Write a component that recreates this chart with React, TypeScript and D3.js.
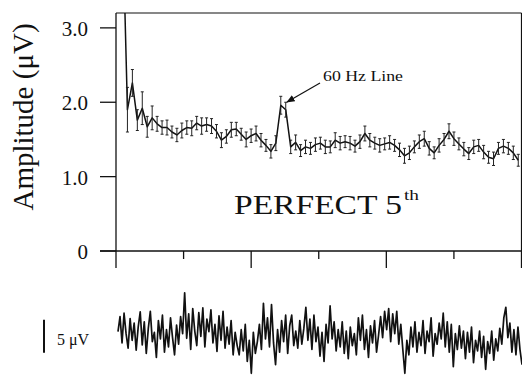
import React from 'react';
import * as d3 from 'd3';

// spectrum: amplitude (uV) per frequency bin
const freqStart = 2.4; // Hz
const freqStep = 1.83; // Hz
const amplitudes = [
  4.5, 1.90, 2.26, 1.76, 1.92, 1.67, 1.79, 1.71, 1.66, 1.66,
  1.60, 1.56, 1.62, 1.66, 1.65, 1.72, 1.68, 1.70, 1.68, 1.61,
  1.49, 1.54, 1.63, 1.64, 1.57, 1.50, 1.55, 1.58, 1.49, 1.42,
  1.34, 1.45, 1.96, 1.90, 1.40, 1.46, 1.35, 1.40, 1.38, 1.43,
  1.45, 1.40, 1.40, 1.49, 1.45, 1.47, 1.45, 1.41, 1.47, 1.58,
  1.49, 1.45, 1.42, 1.44, 1.46, 1.42, 1.36, 1.28, 1.32, 1.40,
  1.47, 1.51, 1.38, 1.32, 1.42, 1.50, 1.61, 1.51, 1.44, 1.37,
  1.31, 1.40, 1.42, 1.33, 1.26, 1.24, 1.38, 1.41, 1.38, 1.32,
  1.22,
];
const errors = [
  0, 0.30, 0.18, 0.14, 0.22, 0.14, 0.16, 0.10, 0.09, 0.10,
  0.08, 0.09, 0.10, 0.09, 0.10, 0.09, 0.11, 0.09, 0.10, 0.09,
  0.10, 0.09, 0.10, 0.09, 0.08, 0.10, 0.09, 0.10, 0.09, 0.08,
  0.09, 0.10, 0.12, 0.10, 0.09, 0.10, 0.08, 0.09, 0.08, 0.09,
  0.08, 0.09, 0.08, 0.10, 0.09, 0.08, 0.09, 0.08, 0.09, 0.10,
  0.09, 0.08, 0.09, 0.08, 0.09, 0.08, 0.09, 0.10, 0.09, 0.08,
  0.09, 0.10, 0.09, 0.08, 0.09, 0.08, 0.10, 0.09, 0.08, 0.09,
  0.08, 0.09, 0.08, 0.09, 0.08, 0.09, 0.08, 0.09, 0.08, 0.09,
  0.08,
];
const yTicks = [0, 1, 2, 3];
const yTickLabels = ['0', '1.0', '2.0', '3.0'];
const xTicks = [0, 25, 50, 75, 100, 125, 150];

// raw EEG trace (uV)
const wave = [
  0.5, 2.8, -1.2, 3.3, 0.2, -2.0, 2.5, -0.8, 1.8, -2.3,
  1.2, 3.5, -1.5, 2.0, -2.8, 1.0, 3.6, -1.0, 0.4, -3.4,
  2.2, -0.6, 3.0, -2.6, 0.8, -1.8, 2.6, -0.4, -3.0, 1.5,
  -1.4, 2.8, 0.2, 6.4, -0.5, 3.2, -2.2, 4.0, 0.6, -1.6,
  3.4, -0.2, 4.1, -1.8, 2.4, 0.5, 3.8, -1.2, 1.6, -2.5,
  2.9, -0.8, 3.6, -2.0, 1.2, -1.4, 2.2, -3.0, 0.4, -1.6,
  -3.0, 0.8, -2.4, 1.6, -4.0, -0.8, -5.8, 0.4, -2.8, -1.0,
  1.6, -2.2, 4.8, -0.6, 2.6, -1.8, 4.6, -1.2, -4.5, 0.8,
  -2.6, 2.2, -1.0, 3.0, -2.8, 1.4, 3.0, -1.6, 0.6, -2.0,
  2.2, -1.4, 1.0, 4.2, -0.8, 2.4, -2.2, 3.0, -1.0, 1.2,
  -3.2, 0.4, -4.0, 1.6, -1.2, 4.4, -0.6, 2.0, -2.4, 0.8,
  -1.8, 2.0, -2.8, 0.6, -3.6, 1.2, -1.6, 0.2, -3.0, 2.6,
  -0.8, 3.0, -2.2, 0.8, -3.4, 1.4, -1.2, 2.2, -2.6, 0.0,
  2.8, -0.4, 3.6, 0.8, 4.0, -1.0, 3.2, 0.2, 3.6, -1.4,
  1.6, -2.2, -5.8, -0.8, -3.0, 1.2, -1.8, 2.0, -2.6, 0.4,
  -1.6, 2.2, -2.8, 0.6, -1.0, 2.6, -3.2, 0.2, -1.4, 1.8,
  -0.6, 3.3, -1.8, 2.0, -2.6, 1.6, -4.8, 0.2, -2.2, 1.4,
  -2.0, 0.6, -3.6, 0.4, -2.6, 1.2, -4.2, -0.8, -2.4, 0.6,
  -3.4, -0.2, -5.2, -1.0, -2.8, 0.6, -3.8, -0.6, -2.4, 1.0,
  -1.4, 2.6, 4.2, -0.4, 1.8, -2.6, 0.8, -3.0, 1.2, -2.2,
  -4.5,
];

const W = 522;
const H = 375;
const font = '"Liberation Serif", "Times New Roman", serif';

export default function App() {
  const left = 116;
  const right = 521.5;
  const top = 13;
  const bottom = 251;

  const x = d3.scaleLinear().domain([0, 150]).range([left, right]);
  const y = d3.scaleLinear().domain([0, 3.2]).range([bottom, top]);

  const pts = amplitudes.map((v, i) => ({ f: freqStart + i * freqStep, v, e: errors[i] }));
  const line = d3.line<{ f: number; v: number }>().x(d => x(d.f)).y(d => y(d.v));

  const xw = d3.scaleLinear().domain([0, wave.length - 1]).range([118, 522]);
  const yw = d3.scaleLinear().domain([-6, 6]).range([335 + 39.6, 335 - 39.6]);
  const waveLine = d3.line<number>().x((_, i) => xw(i)).y(d => yw(d));

  return (
    <svg width={W} height={H} style={{ position: 'absolute', left: 0, top: 0, background: '#fff' }}>
      <defs>
        <clipPath id="plot">
          <rect x={left} y={top} width={right - left} height={bottom - top} />
        </clipPath>
        <marker id="arrow" viewBox="0 0 10 10" refX="9" refY="5" markerWidth="7" markerHeight="7" orient="auto">
          <path d="M0,1 L10,5 L0,9 z" fill="#111" />
        </marker>
      </defs>

      {/* frame */}
      <line x1={left} x2={right} y1={top} y2={top} stroke="#111" strokeWidth={1.2} />
      <line x1={right} x2={right} y1={top} y2={bottom} stroke="#111" strokeWidth={1.2} />
      <line x1={left} x2={left} y1={top} y2={bottom} stroke="#111" strokeWidth={1.3} />
      <line x1={100} x2={W} y1={bottom} y2={bottom} stroke="#111" strokeWidth={1.3} />

      {/* y ticks */}
      {yTicks.map((t, i) => (
        <g key={t}>
          <line x1={100} x2={left} y1={y(t)} y2={y(t)} stroke="#111" strokeWidth={1.3} />
          <text
            x={88}
            y={y(t) + 8}
            textAnchor="end"
            fontFamily={font}
            fontSize={21}
            fill="#111"
          >
            {yTickLabels[i]}
          </text>
        </g>
      ))}

      {/* x ticks */}
      {xTicks.map(t => (
        <line
          key={t}
          x1={x(t)}
          x2={x(t)}
          y1={bottom}
          y2={bottom + (t % 50 === 0 ? 17 : 8)}
          stroke="#111"
          strokeWidth={1.3}
        />
      ))}

      {/* y label */}
      <text
        transform={`translate(33, 117) rotate(-90)`}
        textAnchor="middle"
        fontFamily={font}
        fontSize={29}
        fill="#111"
      >
        Amplitude (μV)
      </text>

      {/* spectrum */}
      <g clipPath="url(#plot)">
        <path d={line(pts) || ''} fill="none" stroke="#111" strokeWidth={1.5} strokeLinejoin="round" />
        {pts.filter(d => d.e > 0).map((d, i) => (
          <g key={i} stroke="#222" strokeWidth={1}>
            <line x1={x(d.f)} x2={x(d.f)} y1={y(d.v - d.e)} y2={y(d.v + d.e)} />
            <line x1={x(d.f) - 1.5} x2={x(d.f) + 1.5} y1={y(d.v - d.e)} y2={y(d.v - d.e)} />
            <line x1={x(d.f) - 1.5} x2={x(d.f) + 1.5} y1={y(d.v + d.e)} y2={y(d.v + d.e)} />
          </g>
        ))}
      </g>

      {/* annotation */}
      <line x1={320} y1={83} x2={287} y2={102} stroke="#111" strokeWidth={1.2} markerEnd="url(#arrow)" />
      <text x={323} y={81} fontFamily={font} fontSize={15} fill="#111" textLength={80} lengthAdjust="spacingAndGlyphs">
        60 Hz Line
      </text>

      <text x={234} y={214} fontFamily={font} fontSize={28} fill="#111" textLength={168} lengthAdjust="spacingAndGlyphs">
        PERFECT 5
      </text>
      <text x={404} y={200} fontFamily={font} fontSize={15} fill="#111" textLength={15} lengthAdjust="spacingAndGlyphs">
        th
      </text>

      {/* raw trace */}
      <path d={waveLine(wave) || ''} fill="none" stroke="#111" strokeWidth={1.7} strokeLinejoin="round" />

      {/* scale bar */}
      <line x1={44} x2={44} y1={yw(2.3)} y2={yw(-2.7)} stroke="#111" strokeWidth={2} />
      <text x={57} y={345} fontFamily={font} fontSize={16} fill="#111">
        5 μV
      </text>
    </svg>
  );
}
